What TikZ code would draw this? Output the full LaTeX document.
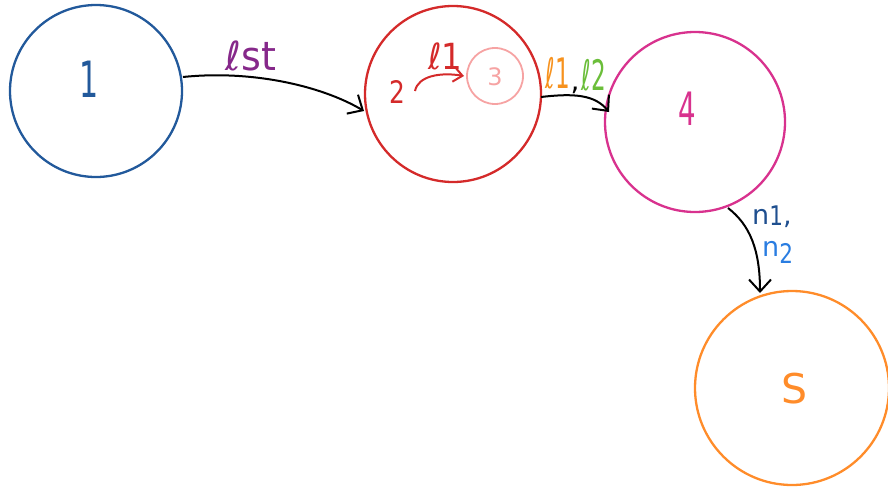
\documentclass[tikz,border=0pt]{standalone}
\usepackage{fontspec}
\setmainfont{DejaVu Sans}
\usetikzlibrary{arrows.meta}
\definecolor{cblue}{HTML}{22599B}
\definecolor{cred}{HTML}{D42A2A}
\definecolor{cpink}{HTML}{F6A3A3}
\definecolor{cmag}{HTML}{D8328E}
\definecolor{corange}{HTML}{FF8C2A}
\definecolor{cpurple}{HTML}{86288A}
\definecolor{lorange}{HTML}{F7921E}
\definecolor{lgreen}{HTML}{6BBE3A}
\definecolor{ndark}{HTML}{1F4F8F}
\definecolor{nlight}{HTML}{2A7DE1}
% narrow, tall lettering
\newcommand\narrow[2]{\scalebox{#1}[1]{#2}}
\newcommand\fs[1]{\fontsize{#1}{#1}\selectfont}
\begin{document}
\begin{tikzpicture}[x=1pt,y=-1pt,
  state/.style={circle,draw,line width=2.3pt,inner sep=0pt},
  flow/.style={draw=black,line width=2pt,-{Straight Barb[length=12pt,width=22pt,line width=2pt]}},
  lbl/.style={inner sep=0pt}]
\useasboundingbox (0,0) rectangle (888,490);
% states
\node[state,draw=cblue,minimum size=172pt] (s1) at (96,91) {};
\node[state,draw=cred,minimum size=176pt] (s2) at (453,94) {};
\node[state,draw=cpink,line width=1.8pt,minimum size=56pt] (s3) at (495,76) {};
\node[state,draw=cmag,minimum size=180pt] (s4) at (695,122) {};
\node[state,draw=corange,minimum size=194pt] (s5) at (792,388) {};
% state labels
\node[lbl,text=cblue,anchor=base] (t1) at (89,97) {\fs{50}\narrow{0.6}{1}};
\node[lbl,text=cred,anchor=base] (t2) at (397,103) {\fs{31}\narrow{0.8}{2}};
\node[lbl,text=cpink,anchor=base] (t3) at (495,85) {\fs{24}3};
\node[lbl,text=cmag,anchor=base] (t4) at (687,125) {\fs{46}\narrow{0.6}{4}};
\node[lbl,text=corange,anchor=base] (t5) at (795,403) {\fs{41}S};
% connectors
\coordinate (a1) at (183,77);
\coordinate (b1) at (364,111);
\draw[flow] (a1) .. controls (250,70) and (320,85) .. (b1);
\node[lbl,text=cpurple,anchor=base] (e1) at (251,70) {\fs{40}\narrow{0.95}{ℓst}};
\coordinate (a2) at (415,91);
\coordinate (b2) at (464,76);
\draw[flow,draw=cred,line width=2pt,-{Straight Barb[length=9pt,width=15pt,line width=2pt]}] (a2) .. controls (418,76) and (440,72) .. (b2);
\node[lbl,text=cred,anchor=base] (e2) at (445,69) {\fs{36}\narrow{0.9}{ℓ1}};
\coordinate (a3) at (541,97);
\coordinate (b3) at (609,112);
\draw[flow] (a3) .. controls (575,93) and (595,95) .. (b3);
\node[lbl,text=lorange,anchor=base] (e3) at (558,88) {\fs{42}\narrow{0.55}{ℓ1}};
\node[lbl,anchor=base] (e3c) at (575,90) {\fs{28},};
\node[lbl,text=lgreen,anchor=base] (e4) at (594,90) {\fs{42}\narrow{0.55}{ℓ2}};
\coordinate (a4) at (728,208);
\coordinate (b4) at (760,293);
\draw[flow] (a4) .. controls (750,225) and (760,250) .. (b4);
\node[lbl,text=ndark,anchor=base west] (e5) at (752,224) {\fs{27}n\raisebox{-1pt}{\narrow{0.8}{1}},};
\node[lbl,text=nlight,anchor=base west] (e6) at (762,256) {\fs{27}n\raisebox{-7pt}{\narrow{0.8}{2}}};
\end{tikzpicture}
\end{document}
